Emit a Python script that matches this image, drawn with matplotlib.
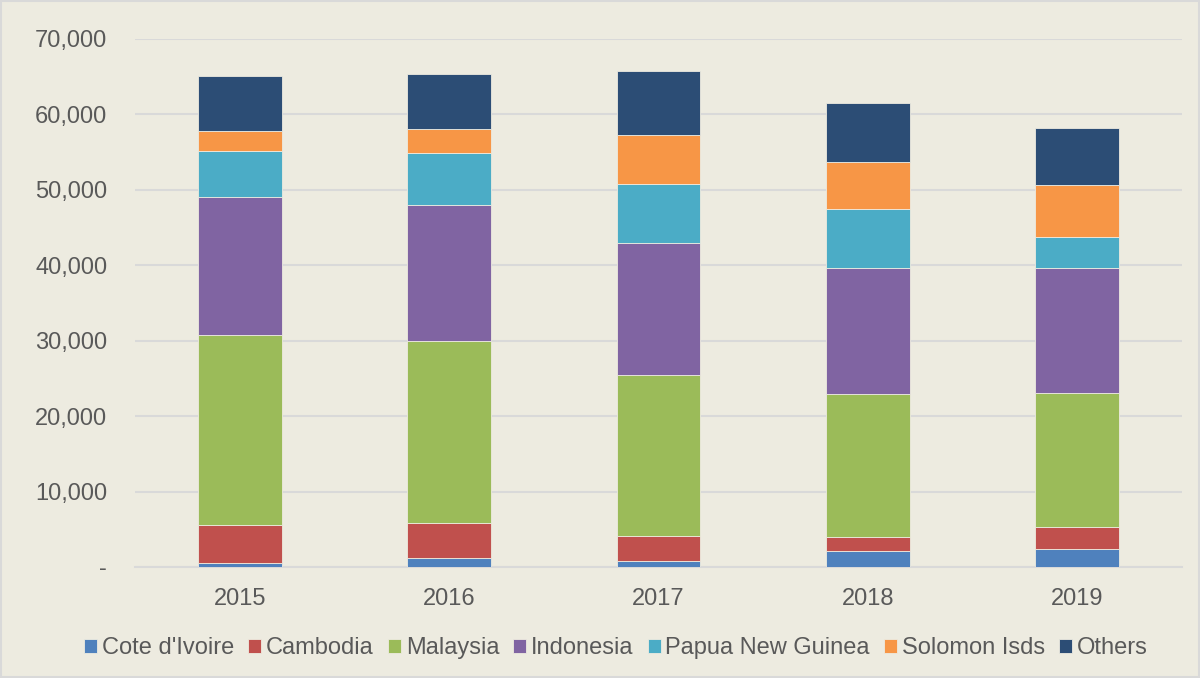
import matplotlib.pyplot as plt
import numpy as np
from matplotlib.ticker import FuncFormatter

plt.rcParams['font.family'] = ['Liberation Sans', 'DejaVu Sans']

# Data
years = ["2015", "2016", "2017", "2018", "2019"]
cote_divoire = [570, 1190, 840, 2160, 2430]
cambodia = [5040, 4680, 3220, 1820, 2820]
malaysia = [25190, 24030, 21340, 19020, 17850]
indonesia = [18300, 18100, 17500, 16700, 16500]
papua_new_guinea = [6000, 6900, 7900, 7800, 4200]
solomon_isds = [2700, 3200, 6500, 6200, 6800]
others = [7300, 7300, 8400, 7800, 7600]

series = [
    ("Cote d'Ivoire", cote_divoire, "#4F81BD"),
    ("Cambodia", cambodia, "#C0504D"),
    ("Malaysia", malaysia, "#9BBB59"),
    ("Indonesia", indonesia, "#8064A2"),
    ("Papua New Guinea", papua_new_guinea, "#4BACC6"),
    ("Solomon Isds", solomon_isds, "#F79646"),
    ("Others", others, "#2C4D75"),
]

bg = "#EDEBE0"
fig = plt.figure(figsize=(12, 6.78), dpi=100, facecolor=bg)
ax = fig.add_axes([135 / 1200, 1 - 567 / 678, 1047 / 1200, 528 / 678])
ax.set_facecolor(bg)

x = np.arange(len(years))
bottom = np.zeros(len(years))
for name, vals, col in series:
    ax.bar(x, vals, width=0.4, bottom=bottom, color=col, label=name,
           edgecolor=bg, linewidth=0.6, zorder=3)
    bottom += np.array(vals)

ax.set_xlim(-0.5, len(years) - 0.5)
ax.set_ylim(0, 70000)
ax.set_yticks(np.arange(0, 70001, 10000))
ax.yaxis.set_major_formatter(FuncFormatter(lambda v, p: "-" if v == 0 else f"{v:,.0f}"))
ax.set_xticks(x)
ax.set_xticklabels(years)
ax.tick_params(axis='both', length=0, labelsize=17, colors="#595959")
ax.tick_params(axis='y', pad=20)
ax.tick_params(axis='x', pad=15)
ax.grid(axis='y', color="#D9D9D9", linewidth=1.5, zorder=0)
for s in ["top", "right", "left"]:
    ax.spines[s].set_visible(False)
ax.spines["bottom"].set_color("#D9D9D9")
ax.spines["bottom"].set_linewidth(1.5)

leg = fig.legend(loc="center", bbox_to_anchor=(616 / 1200, 1 - 648 / 678), ncol=7,
                 frameon=False, fontsize=17, handlelength=0.55, handleheight=0.55,
                 handletextpad=0.2, columnspacing=0.6, labelcolor="#595959")

# light border around the figure
fig.patches.append(plt.Rectangle((0.001, 0.001), 0.998, 0.998, transform=fig.transFigure,
                                 fill=False, edgecolor="#D9D9D9", linewidth=1.5))

fig.savefig("out.png", dpi=100, facecolor=bg)
